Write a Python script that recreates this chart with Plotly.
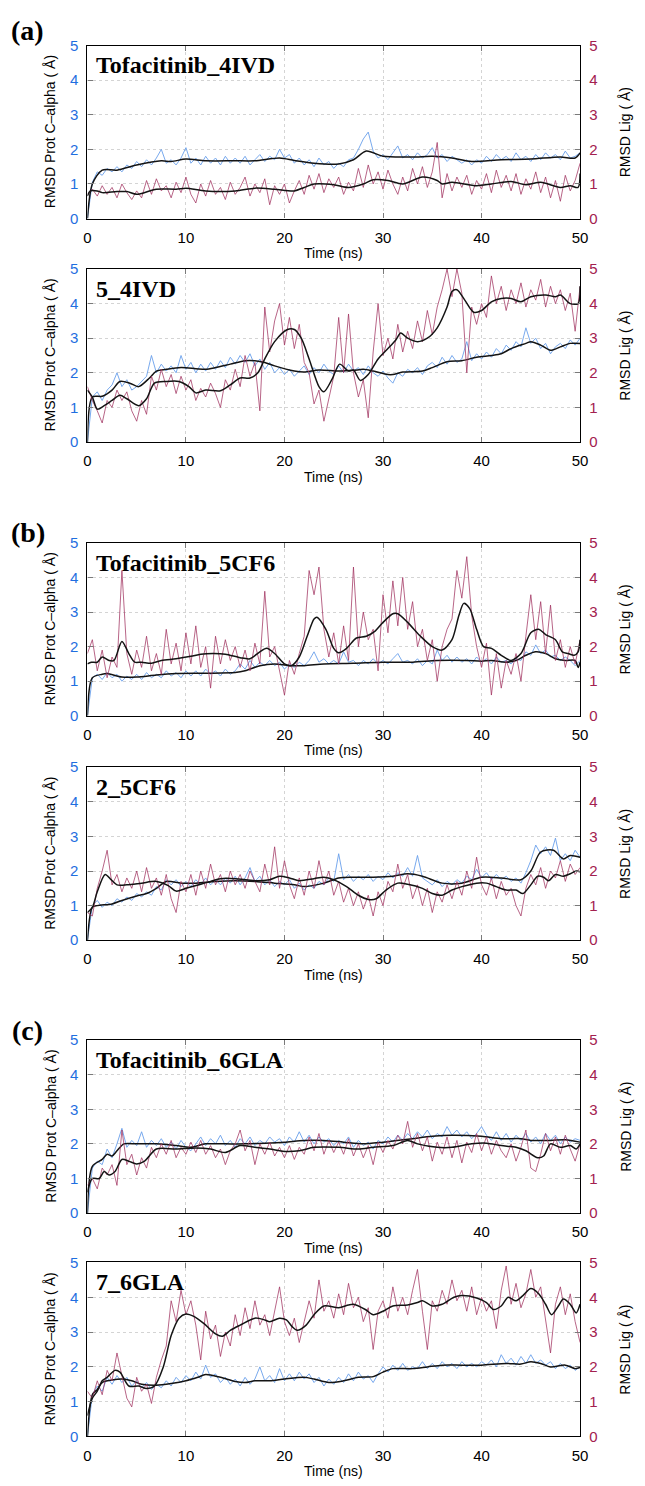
import plotly.graph_objects as go

W, H = 645, 1486

# time grid of the raw trajectories (ns)
T_RAW = [i * 0.5 for i in range(101)]

# ---------- (a) Tofacitinib_4IVD ----------
TOFA_4IVD_PROT = [0.0, 1.05, 1.35, 1.25, 1.45, 1.35, 1.5, 1.35, 1.55, 1.45, 1.65, 1.5, 1.7, 1.55, 1.75, 2.0, 1.6, 1.7, 1.55, 1.75,
                  2.05, 1.6, 1.75, 1.55, 1.8, 1.6, 1.75, 1.55, 1.8, 1.6, 1.75, 1.6, 1.8, 1.55, 1.7, 1.85, 1.65, 1.8, 1.7, 2.0,
                  1.75, 1.85, 1.6, 1.75, 1.55, 1.7, 1.5, 1.75, 1.55, 1.65, 1.45, 1.6, 1.5, 1.7, 1.75, 2.0, 2.3, 2.5, 1.95, 1.75,
                  1.85, 1.7, 1.9, 2.1, 1.75, 1.85, 1.7, 1.9, 1.75, 1.85, 2.05, 1.75, 1.85, 1.65, 1.8, 1.7, 1.6, 1.7, 1.55, 1.7,
                  1.6, 1.8, 1.65, 1.85, 1.7, 1.8, 1.65, 1.9, 1.7, 1.8, 1.65, 1.85, 1.7, 1.9, 1.75, 1.85, 1.7, 1.95, 1.75, 1.8, 1.9]
TOFA_4IVD_LIG = [0.7, 0.85, 0.65, 0.95, 0.7, 0.9, 0.6, 1.0, 0.75, 0.55, 0.8, 0.6, 1.1, 0.7, 1.15, 0.8, 0.95, 0.6, 1.05, 0.75,
                 1.2, 0.7, 0.45, 1.0, 0.65, 1.1, 0.7, 0.9, 0.55, 1.05, 0.7, 0.9, 1.2, 0.65, 1.0, 0.75, 1.15, 0.4, 0.95, 0.7,
                 1.0, 0.45, 0.8, 1.1, 0.7, 1.25, 0.85, 1.3, 0.75, 1.15, 0.9, 1.2, 0.7, 1.05, 0.8, 1.45, 0.9, 1.55, 1.0, 1.35,
                 0.85, 1.4, 1.0, 0.7, 1.2, 0.8, 1.45, 1.0, 1.5, 0.9, 1.35, 2.2, 0.6, 1.3, 0.8, 1.2, 0.9, 1.25, 0.7, 1.1,
                 0.85, 1.3, 0.75, 1.4, 0.9, 1.25, 0.8, 1.3, 0.7, 1.15, 0.85, 1.35, 0.75, 1.2, 0.6, 1.1, 0.5, 1.25, 0.8, 1.1, 1.6]
TOFA_4IVD_PROT_AVG = [(0, 0), (0.5, 1.0), (1.5, 1.4), (3, 1.4), (5, 1.55), (7.5, 1.67), (8.5, 1.65), (10, 1.72), (12, 1.67),
                      (15, 1.67), (17, 1.67), (19.5, 1.75), (21, 1.68), (23, 1.6), (25.5, 1.58), (27, 1.7), (28.3, 1.95),
                      (30, 1.8), (33, 1.78), (35, 1.8), (37, 1.75), (39, 1.65), (42, 1.7), (45, 1.72), (48, 1.78),
                      (49.5, 1.75), (50, 1.9)]
TOFA_4IVD_LIG_AVG = [(0, 0.65), (0.3, 0.8), (1, 0.8), (1.5, 0.75), (3, 0.78), (4, 0.78), (5, 0.7), (7, 0.85), (9, 0.85),
                     (10, 0.88), (12, 0.8), (15, 0.8), (17, 0.88), (19, 0.85), (21, 0.8), (22, 0.9), (23, 1.0), (25, 0.98),
                     (26.5, 0.9), (28, 1.0), (29, 1.12), (30.5, 1.1), (32, 1.0), (34, 1.2), (35.5, 1.1), (36, 1.0),
                     (37, 1.05), (39.5, 0.95), (41, 1.0), (43, 1.07), (44.5, 0.98), (46, 1.05), (48, 0.9), (49, 0.95),
                     (49.8, 0.9), (50, 1.3)]

# ---------- (a) 5_4IVD ----------
C5_4IVD_PROT = [0.0, 1.3, 1.45, 1.2, 1.5, 1.65, 2.0, 1.6, 1.8, 1.5, 1.6, 1.75, 1.9, 2.5, 2.0, 2.25, 2.05, 2.2, 2.0, 2.5,
                2.1, 2.3, 2.0, 2.25, 2.05, 2.3, 2.1, 2.35, 2.15, 2.45, 2.25, 2.5, 2.3, 2.55, 2.2, 2.4, 2.1, 2.3, 2.0, 2.15,
                1.95, 2.1, 1.9, 2.05, 2.2, 1.95, 2.15, 2.0, 2.25, 2.05, 1.95, 2.2, 2.0, 2.25, 2.05, 2.15, 1.95, 2.2, 2.0, 1.9,
                2.05, 1.85, 1.7, 2.0, 1.9, 2.1, 2.0, 2.15, 1.95, 2.2, 2.3, 2.15, 2.45, 2.25, 2.5, 2.3, 2.4, 2.9, 2.35, 2.55,
                2.4, 2.6, 2.45, 2.7, 2.55, 2.8, 2.65, 2.9, 2.75, 3.3, 2.85, 3.0, 2.7, 2.85, 2.55, 2.75, 2.85, 2.7, 2.95, 2.8, 3.0]
C5_4IVD_LIG = [1.6, 1.2, 0.9, 0.55, 1.2, 1.0, 1.5, 1.2, 1.45, 0.9, 0.6, 1.2, 0.8, 1.9, 1.5, 2.1, 1.6, 1.95, 1.4, 1.9,
               1.5, 1.8, 1.2, 1.55, 1.3, 1.7, 1.4, 1.0, 1.8, 1.5, 2.1, 1.6, 2.5, 1.9, 2.3, 0.9, 3.9, 2.6, 3.5, 4.0,
               2.8, 3.6, 2.7, 3.4, 2.3, 2.0, 1.1, 1.5, 0.6, 1.3, 1.9, 3.6, 2.0, 3.7, 2.0, 1.3, 1.8, 0.7, 2.6, 4.0,
               2.5, 3.0, 2.4, 3.4, 2.6, 3.2, 2.7, 3.5, 2.9, 3.8, 3.1, 3.9, 4.4, 5.0, 4.2, 5.0, 4.3, 2.0, 3.9, 3.4,
               4.0, 3.6, 4.8, 4.0, 4.5, 3.8, 4.4, 4.0, 4.6, 3.9, 4.4, 4.1, 4.7, 3.9, 4.5, 4.0, 4.4, 3.8, 4.3, 3.2, 4.5]
C5_4IVD_PROT_AVG = [(0, 0), (0.5, 1.3), (1.5, 1.32), (2.5, 1.5), (3.3, 1.75), (4.3, 1.7), (5.2, 1.6), (6.3, 1.85), (7, 2.05),
                    (8, 2.1), (9.5, 2.15), (11, 2.12), (12, 2.1), (13, 2.15), (14.5, 2.25), (16, 2.35), (17, 2.35),
                    (18, 2.3), (19, 2.2), (21, 2.05), (22, 2.02), (23.5, 2.08), (25.5, 2.05), (27, 2.07), (28, 2.1),
                    (29, 2.05), (30.5, 1.95), (31, 1.95), (32, 2.02), (34, 2.05), (35, 2.15), (36.5, 2.32), (38, 2.35),
                    (39.5, 2.45), (41, 2.5), (42, 2.55), (43, 2.7), (44.5, 2.85), (45, 2.9), (46, 2.8), (47, 2.65),
                    (48, 2.75), (49, 2.85), (50, 2.85)]
C5_4IVD_LIG_AVG = [(0, 1.5), (0.5, 1.3), (1, 0.95), (1.7, 1.05), (2.5, 1.2), (3.3, 1.35), (4, 1.25), (5.2, 1.05), (6, 1.25),
                   (6.8, 1.7), (8, 1.75), (9.3, 1.75), (10.3, 1.6), (11, 1.42), (12, 1.5), (13.5, 1.48), (14.5, 1.65),
                   (15.5, 1.85), (16.5, 1.85), (17.3, 2.0), (18, 2.4), (19, 2.9), (20.3, 3.25), (21, 3.25), (21.7, 3.0),
                   (22.5, 2.4), (23.5, 1.6), (24, 1.45), (24.8, 1.8), (25.6, 2.25), (26.5, 2.05), (27, 2.08), (27.7, 1.78),
                   (28.5, 1.95), (29.5, 2.4), (30.5, 2.7), (31.3, 2.95), (31.8, 3.15), (32.5, 3.0), (33.5, 2.9),
                   (34.5, 3.0), (35.5, 3.3), (36.5, 3.9), (37, 4.35), (37.5, 4.4), (38.3, 4.1), (39.2, 3.75), (40, 3.8),
                   (41, 4.05), (42, 4.15), (43, 4.15), (44, 4.05), (45, 4.2), (46.5, 4.25), (47.5, 4.2), (48, 4.25),
                   (49, 4.0), (49.8, 4.0), (50, 4.5)]

# ---------- (b) Tofacitinib_5CF6 ----------
TOFA_5CF6_PROT = [0.0, 1.1, 1.2, 1.05, 1.25, 1.1, 1.2, 1.0, 1.15, 1.05, 1.2, 1.05, 1.25, 1.1, 1.2, 1.1, 1.3, 1.15, 1.25, 1.1,
                  1.3, 1.15, 1.3, 1.15, 1.35, 1.2, 1.3, 1.15, 1.35, 1.2, 1.3, 1.5, 1.35, 1.6, 1.4, 1.55, 1.45, 1.6, 1.45, 1.55,
                  1.35, 1.5, 1.4, 1.55, 1.45, 1.6, 1.85, 1.55, 1.65, 1.5, 1.6, 1.5, 1.85, 1.55, 1.6, 1.45, 1.6, 1.5, 1.65, 1.5,
                  1.6, 1.5, 1.65, 1.8, 1.55, 1.6, 1.5, 1.65, 1.45, 1.6, 1.5, 1.9, 1.6, 1.75, 1.55, 1.7, 1.55, 1.65, 1.5, 1.7,
                  1.55, 1.65, 1.5, 1.7, 1.55, 1.6, 1.5, 1.65, 1.6, 1.85, 1.75, 2.05, 1.8, 1.9, 1.7, 1.75, 1.6, 1.7, 1.6, 1.45, 1.6]
TOFA_5CF6_LIG = [1.8, 2.2, 1.3, 1.9, 1.1, 1.7, 1.4, 4.2, 1.8, 1.2, 1.9, 1.4, 2.3, 1.3, 1.8, 1.2, 2.5, 1.5, 2.1, 1.3,
                 2.4, 1.5, 2.6, 1.4, 2.0, 0.8, 2.3, 1.5, 2.2, 1.6, 2.0, 1.4, 1.9, 1.3, 2.1, 1.5, 3.6, 1.7, 2.0, 1.3,
                 0.6, 1.6, 1.2, 1.8, 2.3, 4.2, 3.5, 4.3, 2.5, 1.7, 2.4, 1.5, 2.6, 1.6, 4.3, 2.0, 3.0, 2.2, 2.5, 1.3,
                 3.5, 2.4, 3.9, 2.6, 4.0, 2.5, 3.3, 2.0, 2.5, 1.6, 2.2, 1.0, 2.0, 2.5, 2.8, 4.2, 3.4, 4.6, 2.9, 2.0,
                 1.4, 2.1, 0.6, 1.8, 0.8, 1.6, 1.2, 1.8, 1.0, 2.3, 3.5, 2.2, 3.3, 1.8, 3.2, 1.6, 2.2, 1.4, 2.0, 1.5, 2.2]
TOFA_5CF6_PROT_AVG = [(0, 0), (0.5, 1.1), (1.5, 1.2), (2, 1.22), (3.5, 1.12), (5, 1.12), (7, 1.18), (9, 1.22), (12, 1.23),
                      (15, 1.25), (16, 1.3), (17.5, 1.45), (19, 1.5), (20.5, 1.45), (22, 1.45), (24, 1.5), (27, 1.52),
                      (30, 1.55), (33, 1.55), (35.5, 1.6), (38.5, 1.6), (40, 1.58), (41, 1.6), (42.5, 1.55), (43.5, 1.6),
                      (44.5, 1.75), (45.5, 1.85), (46.5, 1.8), (47.5, 1.65), (48.5, 1.6), (49.5, 1.6), (49.8, 1.4),
                      (50, 1.55)]
TOFA_5CF6_LIG_AVG = [(0, 1.5), (0.4, 1.55), (1, 1.55), (1.5, 1.7), (2.2, 1.6), (2.7, 1.6), (3.5, 2.15), (4.2, 1.8),
                     (4.8, 1.55), (5.5, 1.55), (6.5, 1.52), (7.5, 1.6), (9, 1.65), (10.5, 1.72), (11.5, 1.78),
                     (12.8, 1.8), (14, 1.78), (15.5, 1.68), (16.5, 1.65), (17.5, 1.85), (18.2, 1.95), (19, 1.8), (20, 1.5),
                     (20.7, 1.45), (21.5, 1.7), (22.3, 2.3), (23, 2.8), (23.3, 2.85), (24.2, 2.5), (25, 1.95),
                     (25.5, 1.82), (26.3, 1.95), (27.3, 2.25), (28.3, 2.3), (29.2, 2.45), (30, 2.7), (31, 2.95),
                     (31.5, 2.95), (32.5, 2.7), (33.8, 2.3), (35, 2.0), (36, 1.9), (37, 2.2), (37.7, 2.9), (38.2, 3.25),
                     (38.8, 3.1), (39.5, 2.5), (40.2, 2.0), (41, 1.95), (42, 1.75), (43, 1.6), (44, 1.8), (45, 2.4),
                     (45.8, 2.5), (46.5, 2.35), (47.5, 2.2), (48.2, 1.85), (48.8, 1.8), (49.4, 1.75), (49.8, 1.85),
                     (50, 2.2)]

# ---------- (b) 2_5CF6 ----------
C2_5CF6_PROT = [0.0, 1.0, 1.15, 0.95, 1.1, 1.0, 1.2, 1.1, 1.25, 1.15, 1.35, 1.25, 1.4, 1.3, 1.55, 1.45, 1.75, 1.6, 1.75, 1.55,
                1.7, 1.55, 1.75, 1.6, 1.8, 1.6, 1.75, 1.6, 1.8, 1.65, 1.85, 1.6, 1.8, 2.1, 1.7, 1.85, 1.6, 1.75, 1.55, 1.7,
                1.6, 1.75, 1.5, 1.65, 1.45, 1.6, 1.5, 1.7, 1.6, 1.8, 1.7, 2.5, 1.75, 1.9, 1.7, 1.85, 1.75, 1.9, 1.7, 1.85,
                1.75, 1.95, 1.8, 1.95, 1.85, 2.1, 1.85, 2.45, 1.8, 1.7, 1.6, 1.75, 1.55, 1.7, 1.6, 1.75, 1.65, 1.85, 1.75, 2.05,
                1.8, 1.95, 1.75, 1.9, 1.75, 1.85, 1.7, 1.8, 1.65, 1.95, 2.3, 2.75, 2.5, 2.7, 2.45, 2.95, 2.3, 2.5, 2.3, 2.6, 2.4]
C2_5CF6_LIG = [0.8, 0.7, 1.5, 2.0, 2.6, 1.6, 1.9, 1.4, 1.8, 1.5, 2.0, 1.4, 2.1, 1.5, 1.8, 1.3, 1.9, 1.2, 0.8, 1.7,
               1.4, 1.9, 1.3, 2.0, 1.5, 2.2, 1.6, 1.9, 1.4, 2.0, 1.6, 1.9, 1.5, 2.0, 1.7, 1.4, 2.2, 1.6, 2.7, 1.5,
               2.3, 1.6, 1.2, 1.8, 1.3, 2.0, 1.5, 2.3, 1.6, 2.0, 1.3, 1.7, 1.1, 1.5, 1.0, 1.4, 0.9, 1.3, 0.7, 1.4,
               1.0, 1.7, 1.4, 2.2, 1.5, 1.9, 1.2, 1.6, 1.0, 1.5, 0.8, 1.4, 1.1, 1.6, 1.2, 1.7, 1.3, 2.0, 1.5, 2.4,
               1.6, 1.3, 1.8, 1.2, 1.7, 1.3, 1.5, 1.0, 0.7, 1.5, 1.9, 1.6, 2.1, 1.5, 2.0, 1.8, 2.3, 1.7, 2.2, 1.9, 2.1]
C2_5CF6_PROT_AVG = [(0, 0), (0.5, 0.95), (1, 1.0), (2.5, 1.05), (3.5, 1.15), (5, 1.28), (6, 1.35), (7, 1.5), (8, 1.7),
                    (9.5, 1.65), (11, 1.65), (13, 1.7), (15, 1.72), (17, 1.7), (19, 1.65), (21, 1.6), (22, 1.55),
                    (24, 1.65), (25.5, 1.8), (27, 1.82), (29, 1.82), (31, 1.85), (32.5, 1.92), (34, 1.85), (36, 1.65),
                    (38, 1.65), (40, 1.82), (42, 1.8), (44, 1.75), (45, 2.0), (46, 2.55), (47.3, 2.6), (48.3, 2.35),
                    (49, 2.45), (50, 2.4)]
C2_5CF6_LIG_AVG = [(0, 0.8), (0.5, 0.95), (1, 1.4), (1.8, 1.9), (2.4, 1.75), (3, 1.6), (4, 1.6), (5.5, 1.65), (7, 1.7),
                   (8.2, 1.58), (9, 1.42), (10, 1.5), (11.5, 1.62), (12.5, 1.7), (13.5, 1.78), (15, 1.78), (17, 1.72),
                   (18.5, 1.75), (19.5, 1.85), (20.5, 1.8), (21.5, 1.72), (23, 1.78), (24, 1.82), (25, 1.75),
                   (26.3, 1.55), (27.5, 1.3), (28.5, 1.18), (29.3, 1.2), (30.3, 1.45), (31.5, 1.65), (32.5, 1.62),
                   (34, 1.5), (35, 1.35), (36, 1.3), (37, 1.45), (38, 1.55), (39.5, 1.65), (40.5, 1.65), (41.5, 1.55),
                   (42.5, 1.45), (43.5, 1.45), (44.2, 1.35), (45, 1.6), (45.7, 1.85), (46.3, 1.82), (46.8, 1.72),
                   (47.5, 1.9), (48.3, 1.85), (49, 1.92), (49.6, 2.0), (50, 1.98)]

# ---------- (c) Tofacitinib_6GLA ----------
TOFA_6GLA_PROT = [0.0, 1.3, 1.5, 1.4, 1.85, 1.6, 2.0, 2.45, 1.9, 2.1, 1.95, 2.35, 1.9, 2.1, 1.95, 2.15, 1.9, 2.05, 1.85, 2.1,
                  1.9, 1.8, 2.0, 2.2, 1.95, 2.15, 2.0, 2.25, 1.95, 2.1, 1.9, 2.15, 2.0, 2.2, 1.95, 2.1, 2.0, 2.2, 2.05, 2.15,
                  1.95, 2.2, 2.05, 2.35, 2.05, 2.25, 2.0, 2.2, 2.05, 2.15, 1.95, 2.1, 2.0, 2.2, 1.9, 2.1, 1.95, 2.05, 1.85, 2.1,
                  2.0, 2.2, 2.05, 2.25, 2.1, 2.3, 2.15, 2.35, 2.2, 2.4, 2.15, 2.3, 2.2, 2.5, 2.25, 2.4, 2.2, 2.35, 2.15, 2.3,
                  2.5, 2.25, 2.1, 2.35, 2.1, 2.3, 2.05, 2.25, 2.1, 2.3, 2.05, 2.2, 2.0, 2.3, 2.1, 2.25, 2.0, 2.2, 2.05, 2.15, 2.1]
TOFA_6GLA_LIG = [0.8, 1.0, 0.7, 1.3, 1.1, 1.4, 0.8, 2.4, 1.4, 1.7, 1.1, 1.6, 1.3, 1.9, 1.6, 2.0, 1.7, 2.1, 1.6, 1.9,
                 1.7, 2.05, 1.75, 2.1, 1.7, 1.95, 1.6, 1.85, 1.4, 1.8, 2.0, 2.4, 1.8, 2.1, 1.4, 2.0, 1.7, 2.05, 1.65, 1.9,
                 1.6, 1.95, 1.55, 1.9, 1.7, 2.2, 1.8, 2.3, 1.7, 2.1, 1.75, 2.05, 1.7, 2.15, 1.65, 2.0, 1.6, 1.95, 1.4, 2.05,
                 1.75, 2.1, 1.85, 2.25, 2.0, 2.65, 1.9, 2.3, 1.8, 2.2, 1.5, 2.05, 1.7, 2.2, 1.6, 2.1, 1.45, 2.05, 1.75, 2.3,
                 1.8, 2.2, 1.7, 2.1, 1.8, 1.6, 2.0, 1.5, 1.9, 2.4, 1.3, 1.2, 1.7, 2.3, 1.8, 2.2, 1.7, 2.25, 1.85, 1.5, 2.0]
TOFA_6GLA_PROT_AVG = [(0, 0), (0.5, 1.35), (1.5, 1.55), (2, 1.7), (2.5, 1.65), (3, 1.8), (3.7, 2.0), (5, 2.0), (7, 2.0),
                      (9, 1.95), (10.5, 1.9), (12, 2.0), (14, 2.0), (16, 2.0), (18, 2.02), (20, 2.05), (22, 2.1), (24, 2.1),
                      (26, 2.05), (28, 2.0), (30, 2.05), (31, 2.08), (33, 2.15), (35, 2.22), (37, 2.25), (40, 2.22),
                      (42, 2.15), (44, 2.15), (45, 2.1), (47, 2.1), (48.5, 2.12), (50, 2.05)]
TOFA_6GLA_LIG_AVG = [(0, 0.6), (0.5, 1.0), (1.2, 1.0), (1.7, 1.2), (2.2, 1.1), (2.8, 1.2), (3.5, 1.55), (4.2, 1.5),
                     (5, 1.42), (5.8, 1.5), (7, 1.85), (9, 1.85), (11, 1.88), (12.5, 1.85), (14, 1.75), (15.5, 1.95),
                     (17, 1.9), (18.5, 1.85), (20, 1.78), (21.5, 1.8), (23, 1.9), (25.5, 1.9), (27.5, 1.85), (29, 1.9),
                     (31, 1.95), (32.5, 2.1), (33.5, 2.0), (35.5, 1.9), (37, 1.9), (39, 2.0), (40.5, 2.02), (42, 1.95),
                     (43.5, 1.9), (44.5, 1.8), (45.7, 1.6), (46.3, 1.65), (47, 2.0), (48, 1.9), (49, 1.95), (49.6, 1.85),
                     (50, 2.0)]

# ---------- (c) 7_6GLA ----------
C7_6GLA_PROT = [0.0, 1.2, 1.45, 1.3, 1.7, 1.5, 1.75, 1.55, 1.7, 1.45, 1.6, 1.4, 1.55, 1.35, 1.5, 1.4, 1.6, 1.45, 1.7, 1.55,
                1.75, 1.6, 1.85, 1.65, 2.05, 1.7, 1.8, 1.55, 1.7, 1.5, 1.65, 1.45, 1.7, 1.5, 1.65, 2.0, 1.6, 1.75, 1.55, 1.95,
                1.6, 1.8, 1.6, 1.85, 1.65, 1.8, 1.55, 1.7, 1.45, 1.65, 1.5, 1.7, 1.55, 1.8, 1.6, 1.85, 1.65, 1.75, 1.55, 1.8,
                2.0, 1.85, 2.05, 1.9, 2.1, 1.9, 2.0, 1.95, 2.15, 1.95, 2.1, 1.95, 2.15, 2.0, 2.1, 1.95, 2.15, 2.0, 2.1, 2.0,
                2.15, 2.05, 2.2, 2.0, 2.35, 2.1, 2.25, 2.05, 2.3, 2.1, 2.35, 2.1, 2.2, 2.05, 2.15, 1.95, 2.1, 1.95, 2.05, 1.9, 2.0]
C7_6GLA_LIG = [1.3, 1.1, 1.6, 1.2, 1.9, 1.6, 2.4, 1.7, 1.1, 0.85, 1.7, 1.3, 1.5, 0.95, 1.7, 2.2, 2.6, 3.9, 3.3, 4.2,
               3.5, 3.9, 3.2, 2.2, 3.6, 2.8, 3.2, 2.3, 3.0, 2.6, 3.5, 2.9, 3.7, 3.1, 3.9, 3.2, 3.5, 2.9, 3.6, 4.3,
               3.3, 2.9, 3.4, 2.7, 3.3, 3.9, 3.4, 4.5, 3.6, 3.9, 3.4, 4.1, 3.5, 4.4, 3.7, 4.0, 3.3, 3.7, 2.5, 3.6,
               3.9, 3.4, 4.3, 3.6, 4.0, 3.5, 4.2, 4.8, 3.6, 2.5, 3.9, 3.6, 4.2, 3.8, 4.5, 3.9, 4.2, 3.6, 4.3, 3.5,
               4.0, 3.6, 3.9, 3.1, 4.2, 4.9, 3.8, 4.4, 3.7, 4.1, 4.8, 4.0, 4.3, 3.4, 2.4, 3.8, 4.3, 3.5, 4.1, 3.3, 2.7]
C7_6GLA_PROT_AVG = [(0, 0), (0.5, 1.2), (1, 1.35), (1.5, 1.55), (2.5, 1.62), (3.5, 1.65), (4.5, 1.6), (5.5, 1.5), (7, 1.47),
                    (8.5, 1.52), (10, 1.6), (11.2, 1.7), (12, 1.78), (13.5, 1.7), (15, 1.58), (16, 1.55), (17, 1.6),
                    (18.5, 1.6), (20, 1.65), (22, 1.7), (23, 1.65), (24.5, 1.55), (26, 1.6), (27.5, 1.7), (29, 1.72),
                    (30, 1.85), (31, 1.95), (33, 1.95), (34.5, 2.0), (36, 2.05), (38, 2.05), (40, 2.05), (42.5, 2.1),
                    (44, 2.08), (45, 2.15), (46, 2.1), (47, 2.0), (48.5, 2.05), (49.5, 1.95), (50, 1.98)]
C7_6GLA_LIG_AVG = [(0, 0.6), (0.5, 1.1), (1, 1.3), (1.5, 1.6), (2, 1.7), (2.8, 1.9), (3.3, 1.85), (4.2, 1.45), (5.2, 1.45),
                   (6, 1.38), (6.8, 1.45), (7.7, 2.0), (8.5, 2.9), (9.3, 3.4), (10, 3.52), (10.8, 3.45), (11.8, 3.25),
                   (13, 2.95), (13.7, 2.88), (14.5, 3.05), (15.5, 3.2), (17, 3.4), (18, 3.35), (18.5, 3.3), (19.5, 3.4),
                   (20.2, 3.35), (20.8, 3.15), (21.3, 3.05), (22.2, 3.2), (23, 3.5), (24, 3.75), (25.5, 3.7),
                   (26.5, 3.78), (27, 3.8), (28.2, 3.65), (29, 3.5), (30, 3.6), (31, 3.75), (32.5, 3.78), (33.5, 3.85),
                   (34, 3.9), (35, 3.75), (36, 3.8), (37.2, 4.0), (38, 4.05), (39.5, 3.98), (40.5, 3.85), (41.2, 3.65),
                   (42, 3.75), (42.7, 4.0), (43.5, 3.9), (44.2, 4.05), (45, 4.25), (45.8, 4.1), (46.5, 3.8), (47.1, 3.5),
                   (47.8, 3.75), (48.3, 3.95), (49, 3.8), (49.6, 3.55), (50, 3.8)]

PANEL_NAMES = ["Tofacitinib_4IVD", "5_4IVD", "Tofacitinib_5CF6", "2_5CF6", "Tofacitinib_6GLA", "7_6GLA"]
PANELS = [
    (TOFA_4IVD_PROT, TOFA_4IVD_LIG, TOFA_4IVD_PROT_AVG, TOFA_4IVD_LIG_AVG),
    (C5_4IVD_PROT, C5_4IVD_LIG, C5_4IVD_PROT_AVG, C5_4IVD_LIG_AVG),
    (TOFA_5CF6_PROT, TOFA_5CF6_LIG, TOFA_5CF6_PROT_AVG, TOFA_5CF6_LIG_AVG),
    (C2_5CF6_PROT, C2_5CF6_LIG, C2_5CF6_PROT_AVG, C2_5CF6_LIG_AVG),
    (TOFA_6GLA_PROT, TOFA_6GLA_LIG, TOFA_6GLA_PROT_AVG, TOFA_6GLA_LIG_AVG),
    (C7_6GLA_PROT, C7_6GLA_LIG, C7_6GLA_PROT_AVG, C7_6GLA_LIG_AVG),
]
GROUP_LABELS = [("(a)", 22), ("(b)", 530), ("(c)", 1033)]

# pixel frame of every panel (top, bottom) and common left/right
FRAMES = [(37, 212), (263, 438), (540, 715), (767, 942), (1043, 1218), (1268, 1444)]
LEFT, RIGHT = 85, 587

BLUE_RAW = "rgba(105,160,235,0.9)"
RED_RAW = "rgba(160,50,95,0.75)"
BLUE_TICK = "#1f6fe0"
RED_TICK = "#a3204f"
GRID = "#d4d4d4"
SANS = "Liberation Sans, Arial, sans-serif"
SERIF = "Liberation Serif, Times New Roman, serif"


def px_x(p):
    return p / W


def px_y(p):
    return 1 - p / H


fig = go.Figure()
layout = {}
annotations = []

for i, (prot, lig, prot_avg, lig_avg) in enumerate(PANELS):
    k = i + 1
    xa = "x" if k == 1 else f"x{k}"
    ya = "y" if k == 1 else f"y{2 * k - 1}"
    yb = f"y{2 * k}"
    top, bot = FRAMES[i]

    fig.add_trace(go.Scatter(x=T_RAW, y=prot, mode="lines", line=dict(color=BLUE_RAW, width=1),
                             xaxis=xa, yaxis=ya, showlegend=False))
    fig.add_trace(go.Scatter(x=T_RAW, y=lig, mode="lines", line=dict(color=RED_RAW, width=1),
                             xaxis=xa, yaxis=yb, showlegend=False))
    fig.add_trace(go.Scatter(x=[p[0] for p in prot_avg], y=[p[1] for p in prot_avg], mode="lines",
                             line=dict(color="#141414", width=1.5, shape="spline", smoothing=0.8),
                             xaxis=xa, yaxis=ya, showlegend=False))
    fig.add_trace(go.Scatter(x=[p[0] for p in lig_avg], y=[p[1] for p in lig_avg], mode="lines",
                             line=dict(color="#141414", width=1.5, shape="spline", smoothing=0.8),
                             xaxis=xa, yaxis=yb, showlegend=False))

    ydom = [px_y(bot), px_y(top)]
    common = dict(showline=True, linecolor="black", linewidth=1.2, ticks="inside", ticklen=5,
                  tickcolor="#7a7a7a", zeroline=False, ticklabelstandoff=5)
    layout["xaxis" if k == 1 else f"xaxis{k}"] = dict(
        domain=[px_x(LEFT), px_x(RIGHT)], anchor=ya, range=[0, 50], dtick=10, mirror="ticks",
        showgrid=True, gridcolor=GRID, griddash="dot", gridwidth=1,
        tickfont=dict(family=SANS, size=15, color="black"), **common)
    layout["yaxis" if k == 1 else f"yaxis{2 * k - 1}"] = dict(
        domain=ydom, anchor=xa, range=[0, 5], dtick=1,
        showgrid=True, gridcolor=GRID, griddash="dot", gridwidth=1,
        tickfont=dict(family=SANS, size=15, color=BLUE_TICK), **common)
    layout[f"yaxis{2 * k}"] = dict(
        domain=ydom, anchor=xa, overlaying=ya, side="right", range=[0, 5], dtick=1, showgrid=False,
        tickfont=dict(family=SANS, size=15, color=RED_TICK), **common)

    mid = (top + bot) / 2
    annotations += [
        dict(x=px_x(92), y=px_y(top + 20), text=f"<b>{PANEL_NAMES[i]}</b>", xanchor="left", yanchor="middle",
             font=dict(family=SERIF, size=24, color="black")),
        dict(x=px_x(47), y=px_y(mid), text="RMSD Prot C\u2013alpha ( \u00c5)", textangle=-90,
             xanchor="center", yanchor="middle", font=dict(family=SANS, size=14, color="black")),
        dict(x=px_x(633), y=px_y(mid), text="RMSD Lig ( \u00c5)", textangle=-90,
             xanchor="center", yanchor="middle", font=dict(family=SANS, size=14, color="black")),
        dict(x=px_x((LEFT + RIGHT) / 2), y=px_y(bot + 35), text="Time (ns)",
             xanchor="center", yanchor="middle", font=dict(family=SANS, size=14, color="black")),
    ]

for label, ypx in GROUP_LABELS:
    annotations.append(dict(x=px_x(24), y=px_y(ypx), text=f"<b>{label}</b>", xanchor="center", yanchor="middle",
                            font=dict(family=SERIF, size=28, color="black")))

for a in annotations:
    a.update(xref="paper", yref="paper", showarrow=False)

fig.update_layout(
    width=W, height=H,
    margin=dict(l=0, r=0, t=0, b=0),
    paper_bgcolor="white", plot_bgcolor="white",
    annotations=annotations,
    **layout,
)

# page body has a default 8px margin; drop it so the figure sits at the page origin
fig.write_html("out.html", config={"displayModeBar": False},
               post_script="document.body.style.margin='0';document.body.style.overflow='hidden';")
